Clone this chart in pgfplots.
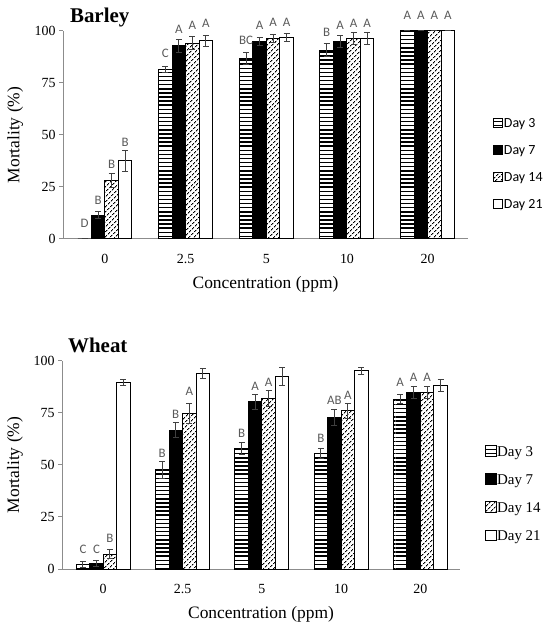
\documentclass[border=0pt]{standalone}
\usepackage{fontspec}
\setmainfont{Liberation Serif}
\newfontfamily\calibri{Carlito}
\usepackage{pgfplots}
\pgfplotsset{compat=1.18}
\usepackage{pgfplotstable}
\usetikzlibrary{patterns.meta}

\definecolor{axgray}{HTML}{8C8C8C}
\definecolor{errgray}{HTML}{404040}
\definecolor{labgray}{HTML}{5A5A5A}

% Barley
\pgfplotstableread{
x y e l s
0 0 0 D 7.7
1 81.5 1.5 C 4.7
2 86.8 3 BC 3.7
3 90.8 3 B 3.7
4 100 0 A 7.7
}\BarA
\pgfplotstableread{
x y e l s
0 11.5 1.5 B 3.7
1 92.8 3 A 2.4
2 94.8 2 A 4.7
3 94.8 2.8 A 2.7
4 100 0 A 7.7
}\BarB
\pgfplotstableread{
x y e l s
0 28.2 3.3 B 0.7
1 94.2 3 A 3.7
2 96.3 1.8 A 4.4
3 96.4 3 A 0.5
4 100 0 A 7.7
}\BarC
\pgfplotstableread{
x y e l s
0 37.5 5 B 0.7
1 95.3 2.6 A 3.7
2 96.8 2 A 2.9
3 96.4 3 A 0.5
4 100 0 A 7.7
}\BarD
% Wheat
\pgfplotstableread{
x y e l s
0 2 1.5 C 4.4
1 47.6 4 B 0.1
2 58 3 B 0.5
3 55.6 2.5 B 2.2
4 81.7 2 A 4.3
}\WhA
\pgfplotstableread{
x y e l s
0 2.7 1.5 C 3
1 66.8 3.5 B 0.2
2 80.4 3.5 A 0
3 72.9 4 AB 0.4
4 84.9 3 A 0.9
}\WhB
\pgfplotstableread{
x y e l s
0 7.2 2 B 3.3
1 74.8 5 A 4
2 82 4 A 0.1
3 76 3.5 A 0.3
4 84.9 3 A 0.9
}\WhC
\pgfplotstableread{
x y e
0 89.6 1.5
1 94 2.5
2 92.5 4.5
3 95.2 1.5
4 88.1 3
}\WhD

\pgfplotsset{
  myaxis/.style={
    scale only axis,
    ybar=0pt, bar width=13.5bp,
    ymin=0, ymax=100, xmin=-0.52, xmax=4.5,
    enlargelimits=false, clip=false,
    ytick={0,25,50,75,100},
    xtick={0,1,2,3,4}, xticklabels={0,2.5,5,10,20},
    axis x line*=bottom, axis y line*=left,
    axis line style={axgray, line width=1bp, -},
    major x tick style={draw=none},
    tick align=outside, major tick length=4bp,
    major y tick style={axgray, line width=1bp},
    tick label style={font=\fontsize{14}{16}\selectfont},
    /pgf/number format/assume math mode=true,
    xticklabel style={yshift=-8bp},
    xlabel={Concentration (ppm)}, ylabel={Mortality (\%)},
    label style={font=\fontsize{17.5}{20}\selectfont},
    xlabel style={at={(axis description cs:0.5,-0.22)}, anchor=center},
    ylabel style={at={(axis description cs:-0.118,0.5)}, anchor=center},
    legend cell align=left,
  },
  mybar/.style={draw=black, line width=1bp,
    error bars/y dir=both, error bars/y explicit,
    error bars/error bar style={errgray, line width=1bp},
    error bars/error mark options={errgray, line width=1bp, mark size=3bp, rotate=90}},
  mylab/.style={nodes near coords, point meta=explicit symbolic,
    visualization depends on={2.08*\thisrow{e}+\thisrow{s} \as \lshift},
    every node near coord/.append style={font=\calibri\fontsize{13}{14}\selectfont, text=labgray, yshift=\lshift bp}},
  hpat/.style={pattern={Lines[angle=0,distance=4.1bp,line width=1.5bp]}},
  dpat/.style={pattern={Lines[angle=45,distance=3.6bp,line width=1.1bp]}},
}

\begin{document}
\begin{tikzpicture}
\path[use as bounding box] (0,0) rectangle (550bp,630bp);

% ---------------- Barley ----------------
\begin{axis}[myaxis, at={(63bp,391bp)}, anchor=south west,
  width=405bp, height=208bp,
  legend style={at={(1.055,0.36)}, anchor=west, draw=none, fill=none,
    font=\calibri\fontsize{14}{16}\selectfont, row sep=14.5bp,
    nodes={inner ysep=1bp, inner xsep=0.5bp}},
  legend image code/.code={\draw[#1,line width=1bp] (0bp,-3.5bp) rectangle (9bp,5.5bp);},
]
\addplot[mybar, hpat, mylab] table[x=x,y=y,y error=e,meta=l]{\BarA};
\addplot[mybar, fill=black, mylab] table[x=x,y=y,y error=e,meta=l]{\BarB};
\addplot[mybar, dpat, mylab] table[x=x,y=y,y error=e,meta=l]{\BarC};
\addplot[mybar, fill=white, mylab] table[x=x,y=y,y error=e,meta=l]{\BarD};
\legend{Day 3, Day 7, Day 14, Day 21}
\node[anchor=base west, font=\bfseries\fontsize{21}{24}\selectfont, inner sep=0pt]
  at (rel axis cs:0.017,1) [yshift=8bp] {Barley};
\end{axis}

% ---------------- Wheat ----------------
\begin{axis}[myaxis, at={(62bp,61bp)}, anchor=south west,
  width=398bp, height=208bp,
  legend style={at={(1.055,0.36)}, anchor=west, draw=none, fill=none,
    font=\fontsize{15}{17}\selectfont, row sep=14.5bp,
    nodes={inner ysep=1bp, inner xsep=0.5bp}},
  legend image code/.code={\draw[#1,line width=1bp] (0bp,-4bp) rectangle (10.5bp,6.5bp);},
]
\addplot[mybar, hpat, mylab] table[x=x,y=y,y error=e,meta=l]{\WhA};
\addplot[mybar, fill=black, mylab] table[x=x,y=y,y error=e,meta=l]{\WhB};
\addplot[mybar, dpat, mylab] table[x=x,y=y,y error=e,meta=l]{\WhC};
\addplot[mybar, fill=white] table[x=x,y=y,y error=e]{\WhD};
\legend{Day 3, Day 7, Day 14, Day 21}
\node[anchor=base west, font=\bfseries\fontsize{21}{24}\selectfont, inner sep=0pt]
  at (rel axis cs:0.015,1) [yshift=8bp] {Wheat};
\end{axis}
\end{tikzpicture}
\end{document}
